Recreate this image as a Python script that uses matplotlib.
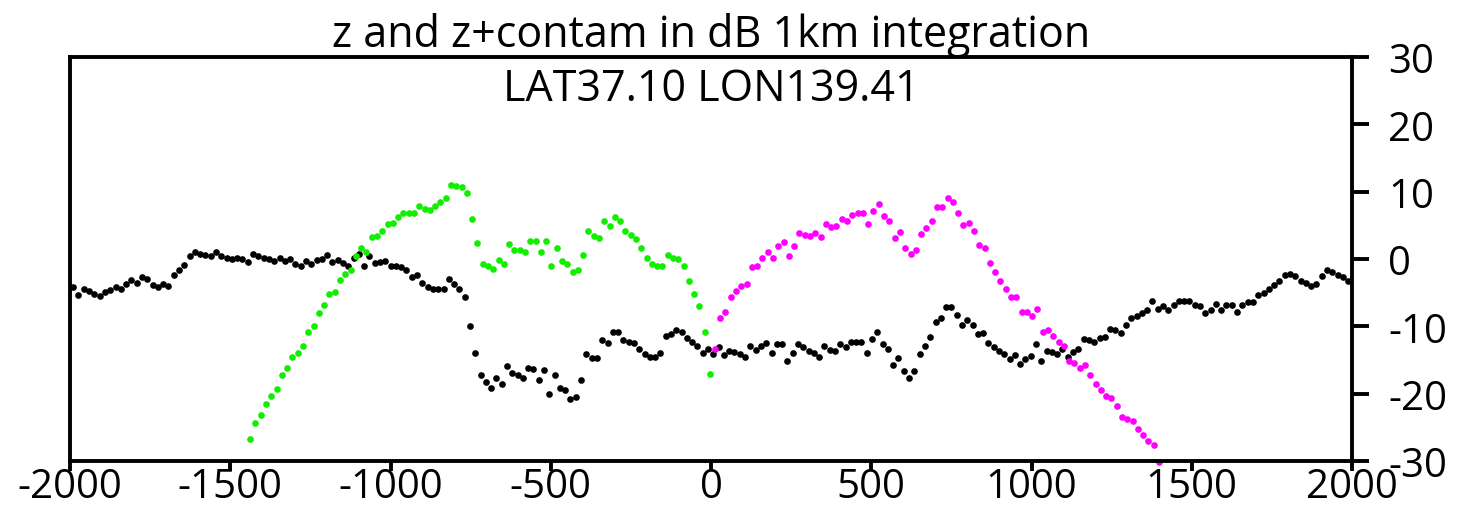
import numpy as np
import matplotlib
matplotlib.use("Agg")
import matplotlib.pyplot as plt

plt.rcParams['font.family'] = ['Open Sans', 'DejaVu Sans']

title = "z and z+contam in dB 1km integration"
subtitle = "LAT37.10 LON139.41"

# z (black), sampled along track
z_start, z_end = -1990, 1988
z_vals = [
    -4.2, -5.4, -4.5, -4.7, -5.2, -5.5, -4.9, -4.6, -4.2, -4.5, -3.7, -3.1, -3.5, -2.6, -3.0,
    -3.9, -4.1, -3.7, -4.0, -2.4, -1.6, -0.9, 0.4, 1.1, 0.8, 0.6, 0.5, 1.0, 0.5,
    0.2, 0.05, 0.2, -0.05, -0.4, 0.7, 0.5, 0.2, 0.0, -0.3, 0.2, -0.3, 0.0, -0.7, -1.0,
    -0.3, -0.8, -0.1, 0.0, 0.6, -0.4, -0.1, -0.6, -1.1, 0.2, 0.7, -1.0, 0.5, -0.6,
    -0.5, -0.25, -1.0, -1.1, -1.2, -1.7, -2.7, -2.4, -3.5, -4.2, -4.4, -4.5, -4.5, -3.0, -3.7,
    -4.4, -5.7, -9.9, -13.9, -17.2, -18.3, -19.1, -17.7, -18.6, -15.9, -16.9, -17.2, -17.6,
    -16.2, -16.4, -17.9, -16.5, -20.1, -17.3, -19.2, -19.5, -20.8, -20.5, -17.9, -14.1, -14.7,
    -14.7, -12.0, -12.5, -10.9, -10.9, -12.0, -12.3, -12.5, -13.4, -14.1, -14.5, -14.6, -13.9,
    -11.5, -11.2, -10.5, -10.8, -11.8, -12.3, -12.9, -14.0,
    -13.4, -14.1, -13.1, -14.3, -13.7, -13.8, -14.1, -14.6, -12.9, -13.5, -12.9, -12.5, -14.0,
    -12.6, -12.6, -15.2, -14.0, -12.6, -13.1, -13.6, -13.9, -14.6, -12.9, -13.5, -13.6, -12.6,
    -13.1, -12.4, -12.3, -12.3, -13.9, -11.9, -10.9, -12.6, -13.4, -15.7, -14.7, -16.7, -17.6,
    -16.7, -14.1, -12.9, -11.6, -9.3, -8.8, -7.2, -7.2, -8.3, -9.8, -9.0, -9.8, -11.1, -11.0,
    -12.5, -13.1, -13.6, -14.1, -14.8, -14.3, -15.6, -14.8,
    -14.4, -12.6, -15.1, -13.7, -13.8, -14.1, -13.4, -14.5, -13.8, -13.3, -11.9, -12.1, -12.4,
    -11.8, -11.6, -10.4, -10.5, -11.0, -9.8, -8.7, -8.5, -8.0, -7.5, -6.3, -7.4, -7.0, -7.5,
    -6.9, -6.2, -6.2, -6.2, -6.9, -7.0, -8.0, -7.6, -6.7, -7.6, -6.8, -6.8, -7.9, -6.9, -6.4,
    -6.4, -5.4, -5.0, -4.5, -3.9, -3.3, -2.4, -2.2, -2.5, -3.3, -3.5, -4.0, -3.7, -2.5, -1.7,
    -1.9, -2.4, -2.7, -3.2,
]

# z+contam, first half (green)
g_start, g_end = -1438, -3
g_vals = [
    -26.8, -24.3, -23.2, -21.5, -20.3, -19.3, -17.2, -16.2, -14.5, -14.0, -12.9, -10.8, -10.0,
    -8.0, -6.9, -5.2, -4.9, -3.1, -2.2, -1.7, 0.4, 1.6, 1.0, 3.2, 3.4, 4.2, 5.2, 5.3, 6.2,
    6.9, 6.9, 6.9, 7.9, 7.5, 7.3, 7.9, 8.4, 9.0, 11.0, 10.8, 10.7, 9.8, 5.9, 2.4, -0.7, -1.1,
    -1.5, -0.15, -0.7, 2.3, 1.4, 1.4, 1.1, 2.7, 2.6, 1.1, 2.6, -1.0, 1.7, -0.3, -0.8, -2.0,
    -1.6, 0.6, 4.2, 3.4, 3.1, 5.7, 4.9, 6.2, 5.7, 4.2, 3.5, 2.9, 1.6, 0.1, -0.7, -1.1, -1.1,
    0.6, 0.1, 0.0, -1.1, -3.2, -5.2, -7.0, -10.9, -17.1,
]

# z+contam, second half (magenta)
m_start, m_end = 12, 1398
m_vals = [
    -13.4, -8.7, -7.8, -5.7, -4.7, -4.0, -3.7, -1.2, -1.0, 0.1, 1.1, 0.1, 2.0, 2.5, 0.4, 2.0,
    3.9, 3.6, 3.4, 3.9, 3.3, 5.2, 4.7, 4.9, 5.9, 5.7, 6.5, 6.8, 6.8, 5.2, 7.1, 8.2, 6.4, 5.6,
    3.1, 4.0, 1.7, 0.8, 1.4, 3.7, 4.6, 5.6, 7.7, 7.7, 9.0, 8.4, 6.9, 5.0, 5.3, 4.1, 2.1, 1.6,
    -0.6, -1.9, -3.2, -4.4, -5.7, -5.7, -7.9, -7.9,
    -8.4, -7.4, -10.8, -10.5, -11.4, -12.4, -12.9, -15.1, -15.4, -16.2, -15.8, -17.2, -18.6,
    -19.4, -20.4, -20.6, -21.8, -23.5, -23.8, -24.0, -25.2, -26.2, -27.0, -27.6, -30.1,
]

x_ticks = [-2000, -1500, -1000, -500, 0, 500, 1000, 1500, 2000]
y_ticks = [-30, -20, -10, 0, 10, 20, 30]

z_x = np.linspace(z_start, z_end, len(z_vals))
g_x = np.linspace(g_start, g_end, len(g_vals))
m_x = np.linspace(m_start, m_end, len(m_vals))

fig = plt.figure(figsize=(14.6, 5.1), dpi=100)
ax = fig.add_axes([70 / 1460, 1 - 462 / 510, 1282 / 1460, 404 / 510])

ms = 4.8
ax.plot(z_x, z_vals, 'o', color='black', ms=ms, mec='none', clip_on=False)
ax.plot(g_x, g_vals, 'o', color='#11ee00', ms=ms, mec='none', clip_on=False)
ax.plot(m_x, m_vals, 'o', color='#ff00ff', ms=ms, mec='none', clip_on=False)

ax.set_xlim(-2000, 2000)
ax.set_ylim(-30, 30)
ax.set_xticks(x_ticks)
ax.set_yticks(y_ticks)
ax.set_xticklabels([str(v) for v in x_ticks])
ax.set_yticklabels([str(v) for v in y_ticks])
ax.yaxis.tick_right()

for s in ax.spines.values():
    s.set_linewidth(2.8)
ax.tick_params(axis='x', direction='out', length=7, width=2.8, pad=-3, labelsize=29)
ax.tick_params(axis='y', direction='out', length=12, width=2.8, pad=14, labelsize=29)

ax.set_title(title, fontsize=31, pad=4)
ax.text(0.5, 0.921, subtitle, transform=ax.transAxes, ha='center', va='center', fontsize=31)

fig.savefig('out.png', dpi=100)
